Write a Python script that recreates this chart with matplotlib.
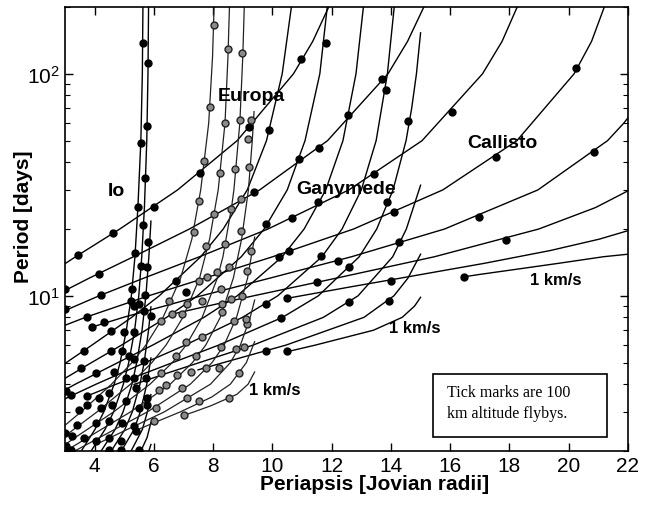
import numpy as np
import matplotlib
matplotlib.use("Agg")
import matplotlib.pyplot as plt
from matplotlib.ticker import LogLocator, NullFormatter, FixedLocator
from matplotlib.patches import Rectangle

plt.rcParams['font.family'] = ['Liberation Sans', 'DejaVu Sans']

# v_inf contours (1..8 km/s): (periapsis [Rj], period [days])
io_curves = [
    [(5.83, 2.0), (5.9, 2.14)],
    [(5.56, 2.0), (5.77, 2.3), (5.9, 2.69)],
    [(5.23, 2.0), (5.61, 2.5), (5.78, 3.0), (5.9, 3.59)],
    [(4.90, 2.0), (5.33, 2.5), (5.54, 3.0), (5.76, 4.0), (5.9, 5.25)],
    [(4.56, 2.0), (5.02, 2.5), (5.27, 3.0), (5.53, 4.0), (5.67, 5.0), (5.82, 7.0), (5.9, 8.92)],
    [(4.22, 2.0), (4.69, 2.5), (4.96, 3.0), (5.26, 4.0), (5.42, 5.0), (5.60, 7.0), (5.73, 10),
     (5.83, 15), (5.9, 21.7)],
    [(3.88, 2.0), (4.35, 2.5), (4.64, 3.0), (4.97, 4.0), (5.15, 5.0), (5.35, 7.0), (5.49, 10),
     (5.59, 15), (5.68, 25), (5.76, 50), (5.80, 100), (5.82, 200)],
    [(3.55, 2.0), (4.01, 2.5), (4.31, 3.0), (4.66, 4.0), (4.86, 5.0), (5.07, 7.0), (5.24, 10),
     (5.36, 15), (5.46, 25), (5.56, 50), (5.61, 100), (5.63, 200)],
]

europa_curves = [
    [(7.09, 2.92), (7.35, 3.0), (7.93, 3.2), (8.80, 3.6), (9.18, 4.0), (9.4, 4.54)],
    [(5.40, 2.48), (6.06, 2.7), (6.89, 3.0), (7.95, 3.5), (8.58, 4.0), (9.12, 5.0), (9.4, 6.22)],
    [(4.14, 2.17), (4.23, 2.2), (5.10, 2.5), (6.35, 3.0), (7.91, 4.0), (8.58, 5.0), (8.92, 6.0),
     (9.25, 8.0), (9.4, 9.57)],
    [(3.15, 1.94), (3.33, 2.0), (4.67, 2.5), (5.78, 3.0), (7.23, 4.0), (7.96, 5.0), (8.37, 6.0),
     (8.79, 8.0), (9.16, 12), (9.4, 18.4)],
    [(3.02, 2.0), (4.22, 2.5), (5.21, 3.0), (6.55, 4.0), (7.30, 5.0), (7.75, 6.0), (8.24, 8.0),
     (8.68, 12), (8.96, 18), (9.19, 30), (9.32, 50), (9.38, 67.6)],
    [(2.68, 2.0), (3.55, 2.4), (4.64, 3.0), (5.87, 4.0), (6.62, 5.0), (7.09, 6.0), (7.63, 8.0),
     (8.14, 12), (8.33, 15), (8.62, 25), (8.70, 30), (8.90, 60), (9.0, 120), (9.05, 200)],
    [(2.33, 2.0), (3.29, 2.5), (4.08, 3.0), (5.21, 4.0), (5.93, 5.0), (6.41, 6.0), (6.98, 8.0),
     (7.54, 12), (7.88, 18), (8.17, 30), (8.40, 60), (8.50, 120), (8.55, 200)],
    [(2.83, 2.5), (3.54, 3.0), (4.57, 4.0), (5.26, 5.0), (5.73, 6.0), (6.31, 8.0), (6.90, 12),
     (7.28, 18), (7.58, 30), (7.85, 60), (7.98, 120), (8.03, 200)],
]

ganymede_curves = [
    [(10.52, 5.61), (11.45, 6.0), (13.41, 7.0), (14.38, 8.0), (14.80, 9.0), (15.0, 9.85)],
    [(7.49, 4.64), (8.34, 5.0), (10.46, 6.0), (13.09, 8.0), (14.10, 10), (14.57, 12), (15.0, 15.4)],
    [(5.33, 3.99), (6.48, 4.5), (7.53, 5.0), (9.35, 6.0), (11.72, 8.0), (12.89, 10), (14.06, 15),
     (14.52, 20), (15.0, 31.5)],
    [(3.75, 3.54), (4.73, 4.0), (6.63, 5.0), (8.19, 6.0), (10.34, 8.0), (11.55, 10), (12.93, 15),
     (13.52, 20), (14.07, 30), (14.51, 50), (14.70, 70), (14.86, 100), (15.0, 153)],
    [(2.17, 3.0), (3.12, 3.5), (4.05, 4.0), (5.70, 5.0), (7.06, 6.0), (8.99, 8.0), (10.18, 10),
     (11.67, 15), (12.35, 20), (13.0, 30), (13.5, 50), (13.88, 100), (14.11, 200)],
    [(2.56, 3.5), (3.35, 4.0), (4.78, 5.0), (5.96, 6.0), (7.69, 8.0), (8.81, 10), (10.33, 15),
     (11.07, 20), (11.8, 30), (12.38, 50), (12.82, 100), (13.07, 200)],
    [(2.0, 3.5), (2.67, 4.0), (3.89, 5.0), (4.91, 6.0), (6.43, 8.0), (7.47, 10), (8.95, 15),
     (9.72, 20), (10.5, 30), (11.1, 50), (11.6, 100), (11.85, 200)],
    [(2.02, 4.0), (3.04, 5.0), (3.91, 6.0), (5.25, 8.0), (6.18, 10), (7.58, 15), (8.34, 20),
     (9.15, 30), (9.8, 50), (10.33, 100), (10.64, 200)],
]

callisto_curves = [
    [(16.6, 12.26), (17.02, 12.5), (17.93, 13), (19.64, 14), (21.17, 15), (22.0, 15.4)],
    [(10.6, 9.8), (12.68, 11), (14.30, 12), (17.14, 14), (19.38, 16), (21.03, 18), (22.19, 20)],
    [(6.6, 8.26), (7.82, 9), (9.36, 10), (12.14, 12), (15.47, 15), (18.99, 20), (20.91, 25), (22.06, 30)],
    [(3.98, 7.28), (4.97, 8), (7.60, 10), (9.90, 12), (12.67, 15), (15.81, 20), (18.96, 30),
     (21.31, 50), (21.86, 60), (22.1, 66)],
    [(2.57, 7), (3.69, 8), (5.82, 10), (7.71, 12), (10.01, 15), (12.74, 20), (15.75, 30),
     (18.25, 50), (20.18, 100), (20.77, 140), (21.2, 200)],
    [(2.47, 8), (4.15, 10), (5.65, 12), (7.54, 15), (9.85, 20), (12.58, 30), (15.05, 50),
     (17.09, 100), (17.75, 140), (18.26, 200)],
    [(2.65, 10), (3.81, 12), (5.31, 15), (7.20, 20), (9.57, 30), (11.86, 50), (13.90, 100),
     (14.56, 140), (15.11, 200)],
    [(2.24, 12), (3.36, 15), (4.85, 20), (6.80, 30), (8.81, 50), (10.71, 100), (11.36, 140), (11.9, 200)],
]

# 100 km flyby tick marks (solid: Io, Ganymede, Callisto; shaded: Europa)
solid_ticks = [
    (3.43, 15.3), (4.61, 19.2), (6.0, 25.1), (7.55, 35.6), (9.21, 57.8), (10.97, 117),
    (2.99, 10.75), (4.14, 12.6), (4.21, 10.1), (2.99, 8.74), (3.74, 8.05), (3.91, 7.26), (4.31, 7.64),
    (9.38, 29.3), (10.9, 41.2), (11.57, 46.5), (12.55, 65.5), (13.70, 95), (13.84, 84.5),
    (11.81, 138), (14.58, 61.5), (13.43, 35.2), (11.54, 26.4), (13.87, 26.4), (14.11, 23.8),
    (10.66, 22.4), (9.78, 21.0), (9.89, 56), (16.07, 67.6), (17.55, 42.4), (20.86, 44.3),
    (20.26, 106), (16.98, 22.6), (17.89, 17.8), (16.47, 12.2), (14.28, 17.5),
    (10.22, 15.0), (10.56, 15.9), (11.64, 15.1), (12.22, 14.4), (12.59, 13.5), (11.51, 11.6),
    (14.0, 11.7), (10.49, 9.8), (12.59, 9.4), (13.94, 9.5), (9.78, 9.2), (10.29, 7.97),
    (9.78, 5.67), (10.49, 5.67), (6.74, 11.7), (7.08, 10.4),
    (5.63, 138), (5.80, 112), (5.76, 58), (5.56, 49), (5.70, 33.8), (5.46, 25.1), (5.63, 20.8),
    (5.80, 17.5), (5.36, 15.6), (5.56, 13.6), (5.76, 13.5), (5.26, 10.75), (5.70, 10.1),
    (5.22, 9.5), (5.49, 9.2),
    (4.55, 6.97), (4.99, 6.90), (5.32, 6.90), (5.32, 9.0), (5.66, 8.56), (5.90, 8.13),
    (3.64, 5.67), (4.55, 5.67), (4.92, 5.67), (5.16, 5.33), (5.32, 5.22), (5.66, 5.11),
    (3.53, 4.71), (4.04, 4.47), (4.65, 4.56), (5.05, 4.25), (5.32, 4.25), (5.73, 4.25),
    (5.76, 3.45), (5.39, 3.83), (4.48, 3.64), (4.14, 3.45), (3.74, 3.52), (3.03, 3.71),
    (3.20, 3.56), (3.47, 3.05), (3.74, 3.21), (4.21, 3.11), (4.58, 3.21), (5.05, 3.35),
    (5.49, 3.11), (5.76, 3.21), (5.32, 2.59), (4.92, 2.67), (4.48, 2.72), (4.04, 2.67),
    (3.40, 2.61), (3.0, 2.41), (3.23, 2.33), (3.64, 2.29), (4.04, 2.21), (4.48, 2.29),
    (4.89, 2.21), (5.39, 2.45), (3.03, 2.10), (3.20, 2.03), (4.48, 2.02), (4.89, 2.02), (5.49, 2.02),
]
europa_ticks = [
    (8.03, 166), (7.89, 71), (7.69, 40.3), (7.52, 26.7), (7.35, 19.4),
    (8.50, 129), (8.40, 59.8), (8.23, 35.6), (8.03, 23.3), (7.76, 16.8),
    (8.97, 124), (8.91, 62), (8.74, 37.1), (9.28, 62), (9.18, 51), (9.21, 37.9),
    (8.94, 27.2), (8.60, 24.5), (8.94, 19.6), (8.40, 17.1), (9.28, 15.9), (9.14, 12.9),
    (7.79, 12.2), (7.52, 11.7), (8.13, 12.8), (8.53, 13.5),
    (8.26, 10.75), (8.60, 9.7), (8.97, 10.0), (6.51, 9.5), (7.11, 9.2), (8.30, 9.2), (7.62, 9.5),
    (8.30, 8.48), (6.61, 8.31), (6.95, 8.31), (6.24, 7.73),
    (8.70, 7.73), (9.14, 7.49), (9.11, 7.89), (7.62, 6.55), (7.08, 6.22), (8.26, 5.91),
    (9.04, 5.91), (8.77, 5.75), (6.74, 5.33), (7.42, 5.38),
    (7.76, 4.71), (8.20, 4.71), (6.78, 4.38), (6.24, 4.47), (7.25, 4.56), (8.87, 4.47),
    (6.17, 3.75), (6.41, 3.95), (6.95, 3.83), (7.11, 3.45), (7.52, 3.35), (8.53, 3.45),
    (6.07, 3.11), (7.01, 2.90), (6.0, 2.72),
]

labels = [("Io", 4.72, 29.9, 14), ("Europa", 9.28, 79.7, 14), ("Ganymede", 12.49, 30.5, 14),
          ("Callisto", 17.76, 49.1, 14), ("1 km/s", 19.55, 11.8, 12),
          ("1 km/s", 14.82, 7.19, 12), ("1 km/s", 10.09, 3.79, 12)]

fig = plt.figure(figsize=(6.55, 5.06), dpi=100)
ax = fig.add_axes([65 / 655, 1 - 452 / 506, 563 / 655, 444 / 506])

for fam in (io_curves, ganymede_curves, callisto_curves):
    for c in fam:
        x, y = zip(*c)
        ax.plot(x, y, color='black', lw=1.0)
for c in europa_curves:
    x, y = zip(*c)
    ax.plot(x, y, color='#222222', lw=0.9)

bx, by = zip(*solid_ticks)
ax.plot(bx, by, 'o', ms=5, color='black', mec='black', clip_on=True)
ex, ey = zip(*europa_ticks)
ax.plot(ex, ey, 'o', ms=5, mfc='#8a8a8a', mec='#222222', mew=1.0)

for txt, x, y, fs in labels:
    ax.text(x, y, txt, fontsize=fs, fontweight='bold', ha='center', va='center')

ax.add_patch(Rectangle((0.654, 0.0315), 0.309, 0.1415, transform=ax.transAxes,
                       fill=True, fc='white', ec='black', lw=1.2, zorder=5))
ax.text(0.6785, 0.133, "Tick marks are 100", transform=ax.transAxes, fontsize=11.5,
        family='Liberation Serif', va='center', ha='left', zorder=6)
ax.text(0.6785, 0.0856, "km altitude flybys.", transform=ax.transAxes, fontsize=11.5,
        family='Liberation Serif', va='center', ha='left', zorder=6)

ax.set_yscale('log')
ax.set_xlim(3, 22)
ax.set_ylim(2, 200)
ax.xaxis.set_major_locator(FixedLocator(np.arange(4, 23, 2)))
ax.yaxis.set_major_locator(LogLocator(base=10, numticks=10))
ax.yaxis.set_minor_locator(LogLocator(base=10, subs=np.arange(2, 10), numticks=10))
ax.yaxis.set_minor_formatter(NullFormatter())
ax.tick_params(which='both', direction='in', top=True, right=True, labelsize=15)
ax.tick_params(which='major', length=6, width=1.0)
ax.tick_params(which='minor', length=3.5, width=0.8)
for s in ax.spines.values():
    s.set_linewidth(1.2)

ax.set_xlabel("Periapsis [Jovian radii]", fontsize=15, fontweight='bold')
ax.set_ylabel("Period [days]", fontsize=15, fontweight='bold')
ax.xaxis.set_label_coords(0.55, -0.052)
ax.yaxis.set_label_coords(-0.057, 0.53)

fig.savefig("out.png", dpi=100)
